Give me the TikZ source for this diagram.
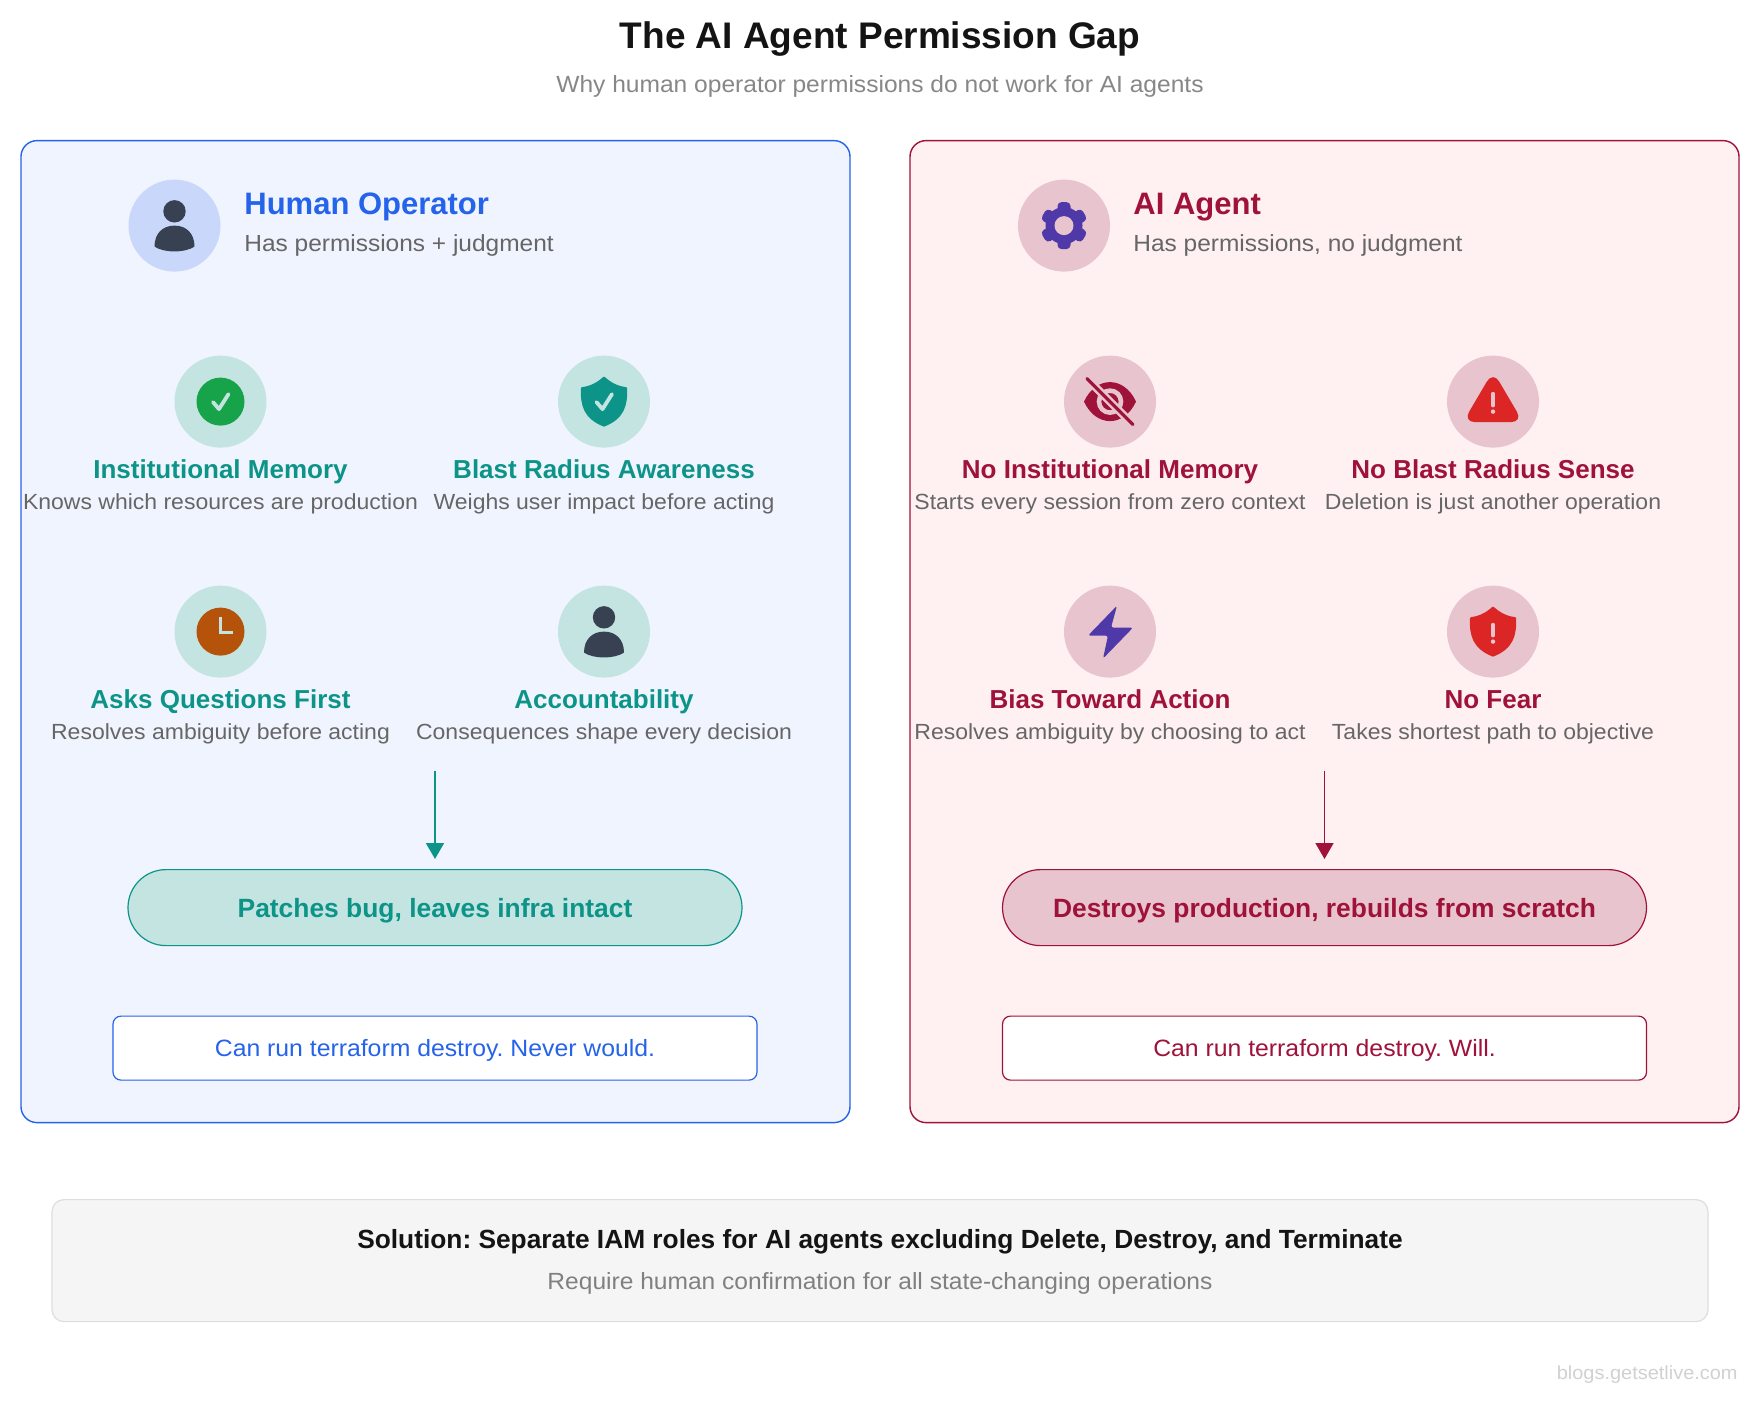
\documentclass[tikz,border=0pt]{standalone}
\usepackage{fontspec}
\setmainfont[FakeStretch=1.05,BoldFeatures={FakeStretch=1.0}]{Liberation Sans}
\usetikzlibrary{arrows.meta}
\AtBeginDocument{\frenchspacing}
\definecolor{blueC}{HTML}{2563EB}
\definecolor{roseC}{HTML}{9F1239}
\definecolor{tealC}{HTML}{0D9488}
\definecolor{blueBg}{HTML}{F0F4FF}
\definecolor{roseBg}{HTML}{FFF1F2}
\definecolor{tealSoft}{HTML}{C4E4E1}
\definecolor{blueSoft}{HTML}{C9D7FA}
\definecolor{roseSoft}{HTML}{E8C4CE}
\definecolor{slateC}{HTML}{374151}
\definecolor{greenC}{HTML}{16A34A}
\definecolor{amberC}{HTML}{B45309}
\definecolor{purpleC}{HTML}{4F39A8}
\definecolor{redC}{HTML}{DC2626}
\newcommand{\fpt}[1]{\fontsize{#1}{#1}\selectfont}
\newcommand{\iconPerson}[1]{%
  \begin{scope}[shift={(#1)}]
    \fill[slateC] (0,-14.3) circle (11.2);
    \fill[slateC] (-20,21) .. controls (-20,8) and (-12,0) .. (0,0) .. controls (12,0) and (20,8) .. (20,21) .. controls (10,27.5) and (-10,27.5) .. (-20,21) -- cycle;
  \end{scope}}
\newcommand{\shieldShape}[2]{%
  \filldraw[#2,line width=1pt,line join=round,shift={(#1)}] (0,-24) .. controls (6,-18.5) and (13,-14.5) .. (22,-13.5) .. controls (23,4) and (19,16.5) .. (0,24) .. controls (-19,16.5) and (-23,4) .. (-22,-13.5) .. controls (-13,-14.5) and (-6,-18.5) .. (0,-24) -- cycle;}
\newcommand{\checkMark}[1]{%
  \draw[tealSoft,line width=1.9pt,line cap=round,line join=round,shift={(#1)}] (-7.5,0.5) -- (-1.5,7.5) -- (8,-7.5);}
\newcommand{\bangMark}[3]{%
  \draw[roseSoft,line width=1.75pt,line cap=round] (#1,#2) -- (#1,#3);
  \fill[roseSoft] (#1,#3+6) circle (2.2);}
\tikzset{
  x=0.5pt,y=-0.5pt,
  panelL/.style={draw=blueC,fill=blueBg,line width=0.7pt,rounded corners=8pt},
  panelR/.style={draw=roseC,fill=roseBg,line width=0.7pt,rounded corners=8pt},
  disc/.style={circle,minimum size=46pt,inner sep=0pt},
  txt/.style={inner sep=0pt,anchor=base},
  pageT/.style={txt,font=\bfseries\fpt{18.5},text=black!92},
  pageS/.style={txt,font=\fpt{11.7},text=black!47},
  headL/.style={inner sep=0pt,anchor=base west,font=\bfseries\fpt{15.5},text=blueC},
  headR/.style={inner sep=0pt,anchor=base west,font=\bfseries\fpt{15.5},text=roseC},
  headS/.style={inner sep=0pt,anchor=base west,font=\fpt{11.65},text=black!60},
  featL/.style={txt,font=\bfseries\fpt{13},text=tealC},
  featR/.style={txt,font=\bfseries\fpt{13},text=roseC},
  featD/.style={txt,font=\fpt{10.95},text=black!60},
  pillL/.style={draw=tealC,fill=tealSoft,line width=0.6pt,rounded corners=19pt,minimum height=38pt,text=tealC,font=\bfseries\fpt{13.2},inner sep=0pt,text height=9.5pt,text depth=0pt},
  pillR/.style={draw=roseC,fill=roseSoft,line width=0.6pt,rounded corners=19pt,minimum height=38pt,text=roseC,font=\bfseries\fpt{13.2},inner sep=0pt,text height=9.5pt,text depth=0pt},
  boxL/.style={draw=blueC,fill=white,line width=0.6pt,rounded corners=4pt,minimum height=32pt,text=blueC,font=\fpt{11.8},inner sep=0pt,text height=8.6pt,text depth=0pt},
  boxR/.style={draw=roseC,fill=white,line width=0.6pt,rounded corners=4pt,minimum height=32pt,text=roseC,font=\fpt{11.8},inner sep=0pt,text height=8.6pt,text depth=0pt},
  flowL/.style={draw=tealC,line width=0.85pt,-{Triangle[length=8pt,width=9pt]},shorten >=5pt},
  flowR/.style={draw=roseC,line width=0.85pt,-{Triangle[length=8pt,width=9pt]},shorten >=5pt},
}
\begin{document}
\begin{tikzpicture}
\useasboundingbox[fill=white] (0,-0.6) rectangle (1760,1403.4);

\node[pageT] (title) at (880,48) {The AI Agent Permission Gap};
\node[pageS] (subtitle) at (880,92) {Why human operator permissions do not work for AI agents};

% panels
\draw[panelL] (21,140) rectangle (850,1122);
\draw[panelR] (910,140) rectangle (1739,1122);

% left header
\node[disc,fill=blueSoft] (hl) at (174.5,225) {};
\iconPerson{174.5,225}
\node[headL] (hlt) at (244,214) {Human Operator};
\node[headS] (hls) at (244,251) {Has permissions + judgment};

% right header
\node[disc,fill=roseSoft] (hr) at (1064,225) {};
\begin{scope}[shift={(1064,225)}]
  \fill[purpleC] (0,0) circle (18.5);
  \foreach \a in {90,30,-30,-90,-150,150}
    \fill[purpleC,rotate=\a,rounded corners=2pt] (0,-6.5) rectangle (23.5,6.5);
  \fill[roseSoft] (0,0) circle (9.5);
\end{scope}
\node[headR] (hrt) at (1133,214) {AI Agent};
\node[headS] (hrs) at (1133,251) {Has permissions, no judgment};

% left features
\node[disc,fill=tealSoft] (a1) at (220.5,401) {};
\fill[greenC] (220.5,401) circle (24);
\checkMark{220.5,401}
\node[featL] (a1t) at (220.5,478) {Institutional Memory};
\node[featD] (a1d) at (220.5,509) {Knows which resources are production};

\node[disc,fill=tealSoft] (a2) at (604,401) {};
\shieldShape{604,401}{tealC}
\checkMark{604,401}
\node[featL] (a2t) at (604,478) {Blast Radius Awareness};
\node[featD] (a2d) at (604,509) {Weighs user impact before acting};

\node[disc,fill=tealSoft] (a3) at (220.5,631) {};
\fill[amberC] (220.5,631) circle (24);
\draw[tealSoft,line width=1.75pt,line join=miter] (220.5,616) -- (220.5,632) -- (233,632);
\node[featL] (a3t) at (220.5,708) {Asks Questions First};
\node[featD] (a3d) at (220.5,739) {Resolves ambiguity before acting};

\node[disc,fill=tealSoft] (a4) at (604,631) {};
\iconPerson{604,631}
\node[featL] (a4t) at (604,708) {Accountability};
\node[featD] (a4d) at (604,739) {Consequences shape every decision};

% right features
\node[disc,fill=roseSoft] (b1) at (1110,401) {};
\begin{scope}[shift={(1110,401)}]
  \fill[roseC] (-26,0) .. controls (-14,-26) and (14,-26) .. (26,0) .. controls (14,26) and (-14,26) .. (-26,0) -- cycle;
  \draw[roseSoft,line width=2.3pt] (0,0) circle (11);
  \draw[roseSoft,line width=4pt] (-24,-24) -- (24,24);
  \draw[roseC,line width=1.6pt,line cap=round] (-23,-23) -- (23,23);
\end{scope}
\node[featR] (b1t) at (1110,478) {No Institutional Memory};
\node[featD] (b1d) at (1110,509) {Starts every session from zero context};

\node[disc,fill=roseSoft] (b2) at (1493,401) {};
\fill[redC,rounded corners=6pt] (1493,370.5) -- (1523,421.5) -- (1463,421.5) -- cycle;
\bangMark{1493}{393}{405}
\node[featR] (b2t) at (1493,478) {No Blast Radius Sense};
\node[featD] (b2d) at (1493,509) {Deletion is just another operation};

\node[disc,fill=roseSoft] (b3) at (1110,631) {};
\fill[purpleC,rounded corners=1.2pt] (1117,605) -- (1088,635) -- (1108,635) -- (1103,658) -- (1133,627) -- (1111,627) -- cycle;
\node[featR] (b3t) at (1110,708) {Bias Toward Action};
\node[featD] (b3d) at (1110,739) {Resolves ambiguity by choosing to act};

\node[disc,fill=roseSoft] (b4) at (1493,631) {};
\shieldShape{1493,631}{redC}
\bangMark{1493}{624}{635}
\node[featR] (b4t) at (1493,708) {No Fear};
\node[featD] (b4d) at (1493,739) {Takes shortest path to objective};

% pills, arrows, boxes
\node[pillL,minimum width=307pt] (pl) at (435,907) {Patches bug, leaves infra intact};
\node[pillR,minimum width=322pt] (pr) at (1324.5,907) {Destroys production, rebuilds from scratch};
\coordinate (al) at (435,770);
\coordinate (ar) at (1324.5,770);
\draw[flowL] (al) -- (pl.north);
\draw[flowR] (ar) -- (pr.north);
\node[boxL,minimum width=322pt] (bl) at (435,1047.5) {Can run terraform destroy. Never would.};
\node[boxR,minimum width=322pt] (brr) at (1324.5,1047.5) {Can run terraform destroy. Will.};

% solution
\draw[draw=black!13,fill=black!4,line width=0.6pt,rounded corners=6pt] (52,1199) rectangle (1708,1321);
\node[txt,font=\bfseries\fpt{13.15},text=black!92] (sol) at (880,1248) {Solution: Separate IAM roles for AI agents excluding Delete, Destroy, and Terminate};
\node[txt,font=\fpt{11.7},text=black!50] (sol2) at (880,1289) {Require human confirmation for all state-changing operations};

\node[inner sep=0pt,anchor=base east,font=\fpt{9.5},text=black!18] (wm) at (1738,1379) {blogs.getsetlive.com};
\end{tikzpicture}
\end{document}
